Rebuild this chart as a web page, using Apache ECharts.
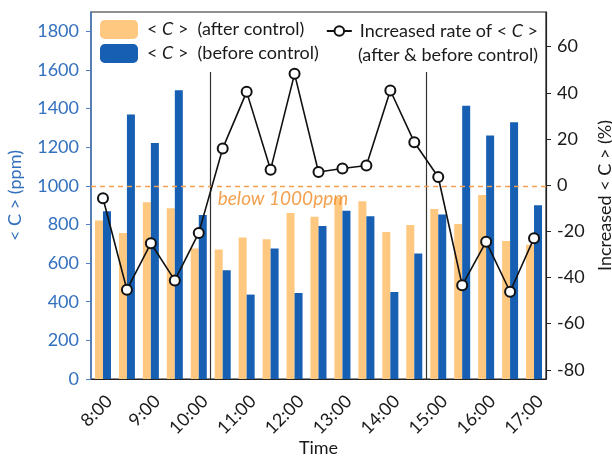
<!DOCTYPE html>
<html><head><meta charset="utf-8">
<script src="https://cdn.jsdelivr.net/npm/echarts@6/dist/echarts.min.js"></script>
<style>html,body{margin:0;padding:0;background:#fff}#c{width:612px;height:457px}</style>
</head><body><div id="c"></div>
<script>
// ---- data ----
const categories = ['8:00','8:30','9:00','9:30','10:00','10:30','11:00','11:30','12:00','12:30','13:00','13:30','14:00','14:30','15:00','15:30','16:00','16:30','17:00'];
const afterControl  = [821, 756, 915, 884, 675, 670, 733, 723, 860, 840, 940, 920, 761, 797, 880, 803, 953, 715, 695];
const beforeControl = [868, 1369, 1222, 1495, 849, 563, 437, 676, 445, 792, 871, 842, 450, 650, 851, 1415, 1260, 1329, 899];
const increasedRate = [-5.7, -45.3, -25.2, -41.3, -20.7, 15.9, 40.4, 6.7, 48.2, 5.7, 7.2, 8.5, 41.0, 18.6, 3.5, -43.4, -24.5, -46.2, -23.0];
const leftTicks  = [0, 200, 400, 600, 800, 1000, 1200, 1400, 1600, 1800];
const rightTicks = [-80, -60, -40, -20, 0, 20, 40, 60];
const threshold = 1000;
const thresholdText = 'below 1000ppm';
const periodBounds = [4.5, 13.5];
const periodLineTop = 1590;
const nameAfter = '<C> (after control)';
const nameBefore = '<C> (before control)';
const nameRate = 'Increased rate of <C>';

const FONT = 'Lato';
const FS = 18;
const BLUE_TXT = '#3370BE';
const chart = echarts.init(document.getElementById('c'), null, {renderer: 'canvas'});
const legendRich = {i: {fontStyle: 'italic', fontFamily: FONT, fontSize: FS, color: '#1a1a1a'}};
const legendFmt = n => n === nameAfter ? '< {i|C} >  (after control)'
                  : n === nameBefore ? '< {i|C} >  (before control)'
                  : 'Increased rate of < {i|C} >';

chart.setOption({
  animation: false,
  textStyle: {fontFamily: FONT},
  grid: {left: 91, right: 66, top: 12, bottom: 78, containLabel: false, outerBoundsMode: 'none',
         show: true, borderColor: '#222', borderWidth: 1.2, backgroundColor: 'transparent'},
  legend: [
    {data: [nameAfter, nameBefore], orient: 'vertical', left: 100, top: 20, padding: 0, itemWidth: 38, itemHeight: 19, itemGap: 5,
     formatter: legendFmt, textStyle: {fontSize: FS, color: '#1a1a1a', fontFamily: FONT, rich: legendRich, padding: [0,0,0,4]}},
    {data: [nameRate], right: 74, top: 22, padding: 0, itemWidth: 25, itemHeight: 12, itemGap: 6,
     formatter: legendFmt, textStyle: {fontSize: FS, color: '#1a1a1a', fontFamily: FONT, rich: legendRich, padding: [0,0,0,3]}}
  ],
  graphic: [
    {type: 'text', right: 74, top: 46, style: {text: '(after & before control)', font: FS + 'px Lato', fill: '#1a1a1a'}}
  ],
  xAxis: [
    {type: 'category', data: categories, boundaryGap: true,
     axisLine: {onZero: false, lineStyle: {color: '#222', width: 1.2}},
     axisTick: {interval: 1, alignWithLabel: true, length: 5, lineStyle: {color: '#222'}},
     axisLabel: {interval: 1, rotate: 45, fontSize: FS, color: '#1a1a1a', margin: 13, verticalAlign: 'top', fontFamily: FONT},
     name: 'Time', nameLocation: 'middle', nameGap: 60, nameMoveOverlap: false,
     nameTextStyle: {fontSize: FS, color: '#1a1a1a', fontFamily: FONT}},
    {type: 'value', min: -0.5, max: 18.5, show: false}
  ],
  yAxis: [
    {type: 'value', min: 0, max: 1900, position: 'left',
     name: '< C > (ppm)', nameLocation: 'middle', nameGap: 67, nameRotate: 90, nameMoveOverlap: false,
     nameTextStyle: {fontSize: FS, color: BLUE_TXT, fontFamily: FONT},
     axisLine: {show: true, onZero: false, lineStyle: {color: '#4A80C8', width: 1.5}},
     axisTick: {show: true, length: 5, customValues: leftTicks, lineStyle: {color: '#4A80C8'}},
     axisLabel: {customValues: leftTicks, formatter: v => String(v), fontSize: FS, color: BLUE_TXT, margin: 12, fontFamily: FONT},
     splitLine: {show: false}},
    {type: 'value', min: -84, max: 75, position: 'right',
     name: 'Increased < C > (%)', nameLocation: 'middle', nameGap: 50, nameRotate: 90,
     nameTextStyle: {fontSize: FS, color: '#1a1a1a', fontFamily: FONT},
     axisLine: {show: true, onZero: false, lineStyle: {color: '#222', width: 1.2}},
     axisTick: {show: true, length: 5, customValues: rightTicks, lineStyle: {color: '#222'}},
     axisLabel: {customValues: rightTicks, formatter: v => String(v), fontSize: FS, color: '#1a1a1a', margin: 11, fontFamily: FONT},
     splitLine: {show: false}}
  ],
  series: [
    {name: nameAfter, type: 'bar', data: afterControl, barWidth: 8, barGap: '0%', itemStyle: {color: '#FFC880'}, z: 2},
    {name: nameBefore, type: 'bar', data: beforeControl, barWidth: 8, barGap: '0%', itemStyle: {color: '#165FB2'}, z: 2},
    {name: nameRate, type: 'line', yAxisIndex: 1, data: increasedRate, z: 5,
     symbol: 'circle', symbolSize: 10, lineStyle: {color: '#111', width: 1.6},
     itemStyle: {color: '#fff', borderColor: '#111', borderWidth: 2}},
    {name: 'annot', type: 'scatter', xAxisIndex: 1, yAxisIndex: 0, symbolSize: 0, silent: true, z: 4,
     data: [[periodBounds[0], threshold]],
     label: {show: true, position: [7, 4], formatter: thresholdText, fontSize: 19, fontStyle: 'italic', color: '#F08A24', fontFamily: FONT},
     markLine: {silent: true, symbol: 'none', label: {show: false},
       data: [
         [{coord: [periodBounds[0], 0], lineStyle: {color: '#333', width: 1.2, type: 'solid'}}, {coord: [periodBounds[0], periodLineTop]}],
         [{coord: [periodBounds[1], 0], lineStyle: {color: '#333', width: 1.2, type: 'solid'}}, {coord: [periodBounds[1], periodLineTop]}],
         {yAxis: threshold, lineStyle: {color: '#F5A04E', width: 1.3, type: [5, 4]}}
       ]}}
  ]
});
</script></body></html>
